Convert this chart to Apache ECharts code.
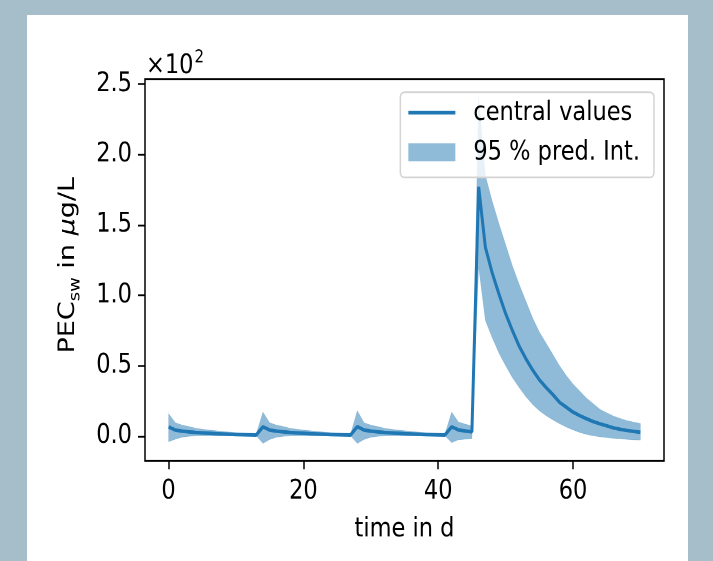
<!DOCTYPE html>
<html>
<head>
<meta charset="utf-8">
<script src="https://cdn.jsdelivr.net/npm/echarts@6/dist/echarts.min.js"></script>
<style>
  html, body { margin: 0; padding: 0; width: 713px; height: 561px; overflow: hidden; background: #a6bdca; }
  #panel { position: absolute; left: 27px; top: 15px; width: 661px; height: 546px; background: #ffffff; }
  /* the figure is drawn slightly taller than wide: render, then stretch vertically */
  #chart { position: absolute; left: 0; top: 0; width: 713px; height: 467.5px;
           transform: scaleY(1.2); transform-origin: 0 0; }
</style>
</head>
<body>
<div id="panel"></div>
<div id="chart"></div>
<script>
// Simulated surface-water concentration (PEC_sw, µg/L) over time, days 0..70
const days = [
  0, 1, 2, 3, 4, 5, 6, 7, 8, 9, 10, 11, 12, 13,
  14, 15, 16, 17, 18, 19, 20, 21, 22, 23, 24, 25, 26, 27,
  28, 29, 30, 31, 32, 33, 34, 35, 36, 37, 38, 39, 40, 41,
  42, 43, 44, 45, 46, 47, 48, 49, 50, 51, 52, 53, 54, 55,
  56, 57, 58, 59, 60, 61, 62, 63, 64, 65, 66, 67, 68, 69, 70
];

// central values
const central = [
  6.5, 4.3, 3.5, 3.0, 2.6, 2.3, 2.0, 1.7, 1.5, 1.3, 1.1, 1.0, 0.9, 0.8,
  6.6, 4.3, 3.5, 3.0, 2.6, 2.3, 2.0, 1.7, 1.5, 1.3, 1.1, 1.0, 0.9, 0.8,
  6.7, 4.3, 3.5, 3.0, 2.6, 2.3, 2.0, 1.7, 1.5, 1.3, 1.1, 1.0, 0.9, 0.8,
  6.6, 4.4, 3.6, 3.0, 177, 134, 116, 101, 87, 75, 64, 55, 47, 40,
  34.5, 29.5, 24, 20.5, 17.0, 14.5, 12.3, 10.3, 8.7, 7.3, 5.8, 4.8, 4.0, 3.3, 2.7
];

// 95 % prediction interval, upper bound
const upper = [
  16, 9.5, 7.8, 6.8, 5.6, 4.9, 4.3, 3.8, 3.3, 2.9, 2.5, 2.1, 1.7, 1.5,
  17, 9.5, 7.8, 6.8, 5.6, 4.9, 4.3, 3.8, 3.3, 2.9, 2.5, 2.1, 1.7, 1.5,
  18, 9.5, 7.8, 6.8, 5.6, 4.9, 4.3, 3.8, 3.3, 2.9, 2.5, 2.1, 1.7, 1.5,
  17, 10, 8.5, 7.2, 241, 185, 167, 151, 136, 121, 108, 96, 84, 74,
  66, 58, 50, 43, 37, 32, 27, 23, 19, 16.5, 14.2, 12.5, 11, 9.9, 9.0
];

// 95 % prediction interval, lower bound
const lower = [
  -4, -2.2, -0.8, -0.2, 0.1, 0.2, 0.2, 0.2, 0.2, 0.2, 0.2, 0.2, 0.2, 0.2,
  -5.2, -2.4, -0.8, -0.2, 0.1, 0.2, 0.2, 0.2, 0.2, 0.2, 0.2, 0.2, 0.2, 0.2,
  -5.2, -2.4, -0.8, -0.2, 0.1, 0.2, 0.2, 0.2, 0.2, 0.2, 0.2, 0.2, 0.2, 0.2,
  -4.7, -2.6, -2.2, -2.0, 120, 82, 70, 59, 50, 41.5, 34.5, 28, 22.5, 18,
  14.5, 11.5, 8.8, 6.4, 4.4, 2.6, 1.2, 0.2, -0.5, -1.1, -1.6, -2.0, -2.3, -2.6, -2.8
];

const xTicks = [0, 20, 40, 60];
const yTicks = [0, 50, 100, 150, 200, 250];

const FONT = 'DejaVu Sans';
const FS = 22.5;
const BLUE = '#1f77b4';
const BAND = 'rgba(31,119,180,0.5)';

// vertical stretch applied by CSS; y positions below are given in page pixels
const STRETCH = 1.2;
const sy = v => v / STRETCH;

const chart = echarts.init(document.getElementById('chart'), null, { renderer: 'canvas', devicePixelRatio: 2 });

chart.setOption({
  animation: false,
  backgroundColor: 'transparent',
  textStyle: { fontFamily: FONT },
  title: {
    text: '{b|×10}{s|2}',
    left: 146,
    top: sy(49),
    padding: 0,
    textStyle: {
      fontWeight: 'normal',
      rich: {
        b: { fontFamily: FONT, fontSize: FS, fontWeight: 'normal', color: '#000', lineHeight: 26, verticalAlign: 'bottom' },
        s: { fontFamily: FONT, fontSize: 15, fontWeight: 'normal', color: '#000', lineHeight: 26, verticalAlign: 'top', padding: [0, 0, 0, 1] }
      }
    }
  },
  legend: {
    orient: 'vertical',
    right: 59,
    top: sy(92.3),
    padding: [5, 14, 9, 8],
    itemGap: 9,
    itemWidth: 47,
    itemHeight: 15,
    backgroundColor: 'rgba(255,255,255,0.8)',
    borderColor: '#d4d4d4',
    borderWidth: 1.5,
    borderRadius: 4,
    textStyle: { fontFamily: FONT, fontSize: FS, color: '#000', lineHeight: 24, padding: [0, 0, 0, 13] },
    data: [
      { name: 'central values', icon: 'path://M0 0H47V3H0Z' },
      { name: '95 % pred. Int.', icon: 'rect', itemStyle: { color: BAND } }
    ]
  },
  grid: {
    left: 145,
    top: sy(79),
    width: 519,
    height: sy(382),
    show: true,
    borderColor: '#000',
    borderWidth: 1.5,
    backgroundColor: 'transparent'
  },
  xAxis: {
    type: 'value',
    min: -3.5,
    max: 73.5,
    name: 'time in d',
    nameLocation: 'middle',
    nameGap: 45.5,
    nameTextStyle: { fontFamily: FONT, fontSize: FS, color: '#000' },
    axisLine: { show: false, onZero: false },
    splitLine: { show: false },
    axisTick: { show: true, length: 7, lineStyle: { color: '#000', width: 1.5 }, customValues: xTicks },
    axisLabel: { fontFamily: FONT, fontSize: FS, color: '#000', margin: 14, customValues: xTicks,
      formatter: v => String(v) }
  },
  yAxis: {
    type: 'value',
    min: -17.7,
    max: 253.5,
    name: 'PEC{sub|sw} in {it|μ}g/L',
    nameLocation: 'middle',
    nameGap: 62,
    nameRotate: 90,
    nameTextStyle: {
      fontFamily: FONT, fontSize: FS, color: '#000', lineHeight: 30, padding: [0, 0, 0, 8],
      rich: {
        sub: { fontFamily: FONT, fontSize: 15, color: '#000', lineHeight: 30, verticalAlign: 'bottom', padding: [10, 0, 0, 0] },
        it: { fontFamily: FONT, fontSize: FS, color: '#000', fontStyle: 'italic', lineHeight: 30 }
      }
    },
    axisLine: { show: false, onZero: false },
    splitLine: { show: false },
    axisTick: { show: true, length: 7, lineStyle: { color: '#000', width: 1.5 }, customValues: yTicks },
    axisLabel: { fontFamily: FONT, fontSize: FS, color: '#000', margin: 13, customValues: yTicks,
      formatter: v => (v / 100).toFixed(1) }
  },
  series: [
    {
      name: '95 % pred. Int.',
      type: 'custom',
      z: 1,
      clip: true,
      itemStyle: { color: BAND },
      data: days.map((d, i) => [d, lower[i], upper[i]]),
      encode: { x: 0, y: [1, 2] },
      renderItem: function (params, api) {
        if (params.dataIndex !== 0) return null;
        const top = [], bottom = [];
        for (let i = 0; i < days.length; i++) {
          top.push(api.coord([days[i], upper[i]]));
          bottom.push(api.coord([days[i], lower[i]]));
        }
        const pts = top.concat(bottom.reverse());
        return {
          type: 'polygon',
          shape: { points: pts },
          style: { fill: BAND, stroke: 'rgba(31,119,180,0.25)', lineWidth: 0.5 }
        };
      }
    },
    {
      name: 'central values',
      type: 'line',
      z: 2,
      symbol: 'none',
      showSymbol: false,
      clip: true,
      color: BLUE,
      lineStyle: { color: BLUE, width: 3 },
      data: days.map((d, i) => [d, central[i]])
    }
  ]
});
</script>
</body>
</html>
